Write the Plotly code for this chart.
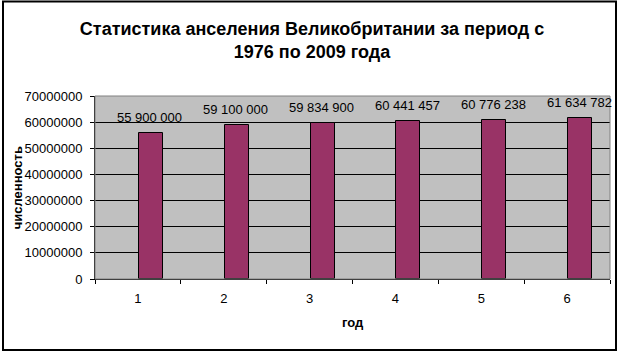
import plotly.graph_objects as go

categories = ["1", "2", "3", "4", "5", "6"]
population = [55900000, 59100000, 59834900, 60441457, 60776238, 61634782]
value_labels = ["55 900 000", "59 100 000", "59 834 900", "60 441 457", "60 776 238", "61 634 782"]
y_ticks = [0, 10000000, 20000000, 30000000, 40000000, 50000000, 60000000, 70000000]

title_text = "Статистика анселения Великобритании за период с<br>1976 по 2009 года"
x_title = "год"
y_title = "численность"

FONT = "Liberation Sans, Arial, sans-serif"

fig = go.Figure()
fig.add_trace(go.Bar(
    x=categories,
    y=population,
    marker=dict(color="#993366", line=dict(color="black", width=1)),
    width=0.28,
    offset=0.012,
    hoverinfo="skip",
))

for i, (v, t) in enumerate(zip(population, value_labels)):
    fig.add_annotation(
        x=i, y=v, xref="x", yref="y", text=t, showarrow=False,
        yanchor="bottom", yshift=6, xshift=12,
        font=dict(family=FONT, size=13, color="black"),
    )

fig.add_annotation(
    x=0.5, y=-0.24, xref="paper", yref="paper", text="<b>" + x_title + "</b>",
    showarrow=False, yanchor="middle", xanchor="center",
    font=dict(family=FONT, size=13, color="black"),
)
fig.add_annotation(
    x=-0.15, y=0.5, xref="paper", yref="paper", text="<b>" + y_title + "</b>",
    showarrow=False, textangle=-90, xanchor="center", yanchor="middle",
    font=dict(family=FONT, size=13, color="black"),
)

# plot-area border (gray) and chart border (black)
fig.add_shape(type="rect", xref="paper", yref="paper", x0=0, x1=1, y0=0, y1=1,
              line=dict(color="#808080", width=1), layer="above")
fig.add_shape(type="rect", xref="paper", yref="paper",
              x0=(3 - 95) / 515, x1=(616 - 95) / 515,
              y0=(279 - 350) / 183, y1=(279 - 1.5) / 183,
              line=dict(color="black", width=2), layer="above")

fig.update_layout(
    width=624, height=355,
    margin=dict(l=95, r=14, t=96, b=76),
    paper_bgcolor="white",
    plot_bgcolor="#C0C0C0",
    showlegend=False,
    title=dict(
        text="<b>" + title_text + "</b>",
        x=0.5, xref="container", xanchor="center",
        y=1 - 35 / 355, yref="container", yanchor="middle",
        font=dict(family=FONT, size=18, color="black"),
    ),
    font=dict(family=FONT, size=13, color="black"),
    xaxis=dict(
        type="category",
        categoryorder="array", categoryarray=categories,
        range=[-0.5, len(categories) - 0.5],
        tickson="boundaries",
        ticks="outside", ticklen=4, tickcolor="black", tickwidth=1,
        showline=True, linecolor="black", linewidth=1,
        showgrid=False,
        ticklabelstandoff=7,
        tickfont=dict(family=FONT, size=13, color="black"),
    ),
    yaxis=dict(
        range=[0, 70000000],
        tickvals=y_ticks,
        ticktext=[str(v) for v in y_ticks],
        ticks="outside", ticklen=4, tickcolor="black", tickwidth=1,
        showline=True, linecolor="black", linewidth=1,
        showgrid=True, gridcolor="black", gridwidth=1,
        zeroline=False,
        ticklabelstandoff=5,
        tickfont=dict(family=FONT, size=13, color="black"),
    ),
    bargap=0,
)

fig.write_html("out.html")
